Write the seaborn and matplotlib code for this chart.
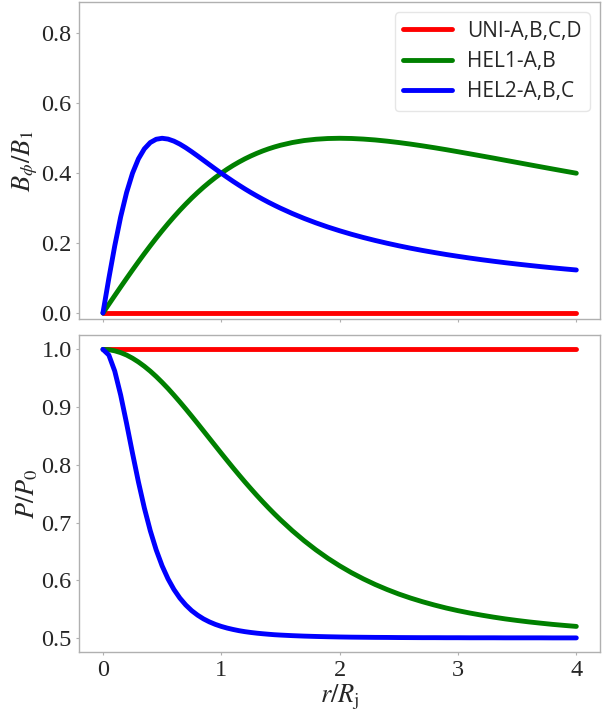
import matplotlib
matplotlib.use("Agg")
import matplotlib.pyplot as plt
import seaborn as sns
import pandas as pd

# ---- data ----
r = [0.0, 0.05, 0.1, 0.15, 0.2, 0.25, 0.3, 0.35, 0.4, 0.45, 0.5, 0.55, 0.6, 0.65, 0.7,
     0.75, 0.8, 0.85, 0.9, 0.95, 1.0, 1.05, 1.1, 1.15, 1.2, 1.25, 1.3, 1.35, 1.4, 1.45,
     1.5, 1.6, 1.7, 1.8, 1.9, 2.0, 2.1, 2.2, 2.3, 2.4, 2.5, 2.6, 2.7, 2.8, 2.9, 3.0,
     3.1, 3.2, 3.3, 3.4, 3.5, 3.6, 3.7, 3.8, 3.9, 4.0]

bphi_uni = [0.0] * len(r)
bphi_hel1 = [0.0, 0.0250, 0.0499, 0.0746, 0.0990, 0.1231, 0.1467, 0.1698, 0.1923, 0.2142,
             0.2353, 0.2557, 0.2752, 0.2940, 0.3118, 0.3288, 0.3448, 0.3600, 0.3742, 0.3876,
             0.4000, 0.4116, 0.4223, 0.4321, 0.4412, 0.4494, 0.4569, 0.4637, 0.4698, 0.4752,
             0.4800, 0.4878, 0.4935, 0.4972, 0.4993, 0.5000, 0.4994, 0.4977, 0.4952, 0.4918,
             0.4878, 0.4833, 0.4783, 0.4730, 0.4674, 0.4615, 0.4555, 0.4494, 0.4433, 0.4370,
             0.4308, 0.4245, 0.4183, 0.4121, 0.4060, 0.4000]
bphi_hel2 = [0.0, 0.0990, 0.1923, 0.2752, 0.3448, 0.4000, 0.4412, 0.4698, 0.4878, 0.4972,
             0.5000, 0.4977, 0.4918, 0.4833, 0.4730, 0.4615, 0.4494, 0.4370, 0.4245, 0.4121,
             0.4000, 0.3882, 0.3767, 0.3657, 0.3550, 0.3448, 0.3351, 0.3257, 0.3167, 0.3082,
             0.3000, 0.2847, 0.2707, 0.2579, 0.2461, 0.2353, 0.2253, 0.2161, 0.2076, 0.1997,
             0.1923, 0.1854, 0.1790, 0.1731, 0.1674, 0.1622, 0.1572, 0.1525, 0.1481, 0.1439,
             0.1400, 0.1363, 0.1327, 0.1293, 0.1261, 0.1231]

p_uni = [1.0] * len(r)
p_hel1 = [1.0, 0.9994, 0.9975, 0.9944, 0.9902, 0.9847, 0.9782, 0.9707, 0.9623, 0.9530,
          0.9429, 0.9322, 0.9208, 0.9090, 0.8968, 0.8843, 0.8716, 0.8587, 0.8458, 0.8329,
          0.8200, 0.8073, 0.7947, 0.7824, 0.7703, 0.7586, 0.7471, 0.7360, 0.7252, 0.7148,
          0.7048, 0.6859, 0.6685, 0.6526, 0.6381, 0.6250, 0.6131, 0.6024, 0.5927, 0.5840,
          0.5761, 0.5691, 0.5628, 0.5571, 0.5519, 0.5473, 0.5432, 0.5395, 0.5361, 0.5330,
          0.5303, 0.5278, 0.5256, 0.5235, 0.5217, 0.5200]
p_hel2 = [1.0, 0.9902, 0.9623, 0.9208, 0.8716, 0.8200, 0.7703, 0.7252, 0.6859, 0.6526,
          0.6250, 0.6024, 0.5840, 0.5691, 0.5571, 0.5473, 0.5395, 0.5330, 0.5278, 0.5235,
          0.5200, 0.5171, 0.5147, 0.5126, 0.5109, 0.5095, 0.5083, 0.5073, 0.5064, 0.5056,
          0.5050, 0.5040, 0.5032, 0.5026, 0.5021, 0.5017, 0.5014, 0.5012, 0.5010, 0.5009,
          0.5007, 0.5006, 0.5005, 0.5005, 0.5004, 0.5004, 0.5003, 0.5003, 0.5003, 0.5002,
          0.5002, 0.5002, 0.5002, 0.5001, 0.5001, 0.5001]

labels = ["UNI-A,B,C,D", "HEL1-A,B", "HEL2-A,B,C"]
colors = ["#ff0000", "#008000", "#0000ff"]
top_ticks = [0.0, 0.2, 0.4, 0.6, 0.8]
bot_ticks = [0.5, 0.6, 0.7, 0.8, 0.9, 1.0]
x_ticks = [0, 1, 2, 3, 4]

# ---- style ----
sns.set_style("white")
plt.rcParams["font.family"] = ["Liberation Serif", "DejaVu Serif"]
plt.rcParams["mathtext.fontset"] = "stix"
spine_col = "#b0b0b0"

fig = plt.figure(figsize=(6.05, 7.13), dpi=100)
ax1 = fig.add_axes([0.131, 0.5522, 0.8607, 0.4450])
ax2 = fig.add_axes([0.131, 0.0851, 0.8607, 0.4451], sharex=ax1)

top_series = [bphi_uni, bphi_hel1, bphi_hel2]
bot_series = [p_uni, p_hel1, p_hel2]

LW = 3.5
for ys, lab, col in zip(top_series, labels, colors):
    df = pd.DataFrame({"r": r, "v": ys})
    sns.lineplot(data=df, x="r", y="v", ax=ax1, color=col, lw=LW, label=lab)
for ys, lab, col in zip(bot_series, labels, colors):
    df = pd.DataFrame({"r": r, "v": ys})
    sns.lineplot(data=df, x="r", y="v", ax=ax2, color=col, lw=LW, legend=False)

ax1.set_ylim(-0.018, 0.89)
ax1.set_yticks(top_ticks)
ax2.set_yticks(bot_ticks)
ax2.set_xticks(x_ticks)
ax1.tick_params(labelbottom=False)

for ax in (ax1, ax2):
    for s in ax.spines.values():
        s.set_color(spine_col)
        s.set_linewidth(1.0)
    ax.tick_params(axis="both", which="both", direction="out", length=2.5, width=0.8,
                   color=spine_col, labelsize=17.5, pad=3, bottom=True, left=True)
    ax.set_xlabel("")

ax1.set_ylabel(r"$B_\phi/B_1$", fontsize=19, labelpad=1)
ax2.set_ylabel(r"$P/P_0$", fontsize=19, labelpad=1)
ax2.set_xlabel(r"$r/R_\mathrm{j}$", fontsize=19, labelpad=1)

leg = ax1.legend(loc="upper right", prop={"family": "Open Sans", "size": 15},
                 handlelength=2.35, handletextpad=0.7, labelspacing=0.45,
                 borderaxespad=0.5, frameon=True, fancybox=True)
leg.get_frame().set_edgecolor("#e0e0e0")
for line in leg.get_lines():
    line.set_linewidth(LW)

fig.savefig("out.png", dpi=100)
